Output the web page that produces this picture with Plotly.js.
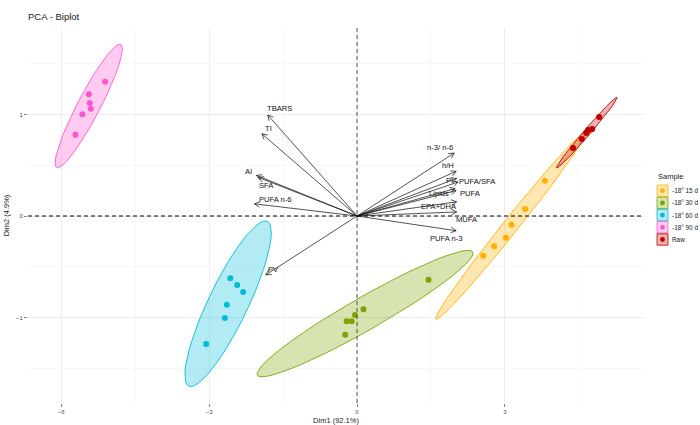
<!DOCTYPE html>
<html><head><meta charset="utf-8">
<script src="https://cdn.plot.ly/plotly-3.0.1.min.js"></script>
<style>html,body{margin:0;padding:0;background:#fff}#chart{width:700px;height:425px}</style>
</head><body><div id="chart"></div>
<script>
// ---- DATA ----
const groups = ["-18° 15 d", "-18° 30 d", "-18° 60 d", "-18° 90 d", "Raw"];
const dim1_15d = [3.81, 3.41, 3.13, 3.02, 2.78, 2.56];
const dim2_15d = [0.348, 0.069, -0.086, -0.214, -0.299, -0.391];
const dim1_30d = [1.45, 0.13, -0.04, -0.11, -0.21, -0.24];
const dim2_30d = [-0.628, -0.919, -0.975, -1.037, -1.037, -1.169];
const dim1_60d = [-2.57, -2.43, -2.31, -2.64, -2.68, -3.06];
const dim2_60d = [-0.614, -0.680, -0.749, -0.874, -1.005, -1.261];
const dim1_90d = [-5.11, -5.44, -5.42, -5.40, -5.57, -5.71];
const dim2_90d = [1.323, 1.200, 1.113, 1.057, 1.002, 0.800];
const dim1_raw = [4.91, 4.77, 4.69, 4.65, 4.56, 4.38];
const dim2_raw = [0.975, 0.857, 0.847, 0.818, 0.759, 0.670];

const variables = ["TBARS", "TI", "AI", "SFA", "PUFA n-6", "PV", "n-3/ n-6", "h/H", "PI",
  "PUFA/SFA", "Lipids", "PUFA", "EPA+DHA", "MUFA", "PUFA n-3"];
const varDim1 = [-1.81, -1.93, -2.04, -2.00, -2.08, -1.85, 1.97, 2.01, 2.02, 2.05, 1.99, 2.01, 2.02, 2.02, 2.01];
const varDim2 = [0.995, 0.81, 0.40, 0.38, 0.12, -0.58, 0.62, 0.44, 0.37, 0.335, 0.27, 0.25, 0.14, 0.04, -0.145];

const xTitle = "Dim1 (92.1%)";
const yTitle = "Dim2 (4.9%)";
const chartTitle = "PCA - Biplot";

// ---- STYLE ----
const FONT = 'Liberation Sans, Arial, sans-serif';
const colors = ["#FFB000", "#7FA300", "#00BCD9", "#FF55CC", "#C00000"];
const fills = ["rgba(255,176,0,0.3)", "rgba(127,163,0,0.3)", "rgba(0,188,217,0.3)", "rgba(255,85,204,0.3)", "rgba(192,0,0,0.3)"];
// label offsets (px) relative to arrow tip: [dx right, dy down]
const labelOffsets = [[12,-7],[7,-5],[-8,-4],[8,8],[21,-4],[8,-5],[-14,-6],[-8,-6],[-7,2],[19,-1],[-16,5],[14,3],[-18,5],[10,8],[-10,8]];

const W = 700, H = 425;
const M = {l: 28, r: 56, t: 28, b: 22};
const PW = W - M.l - M.r, PH = H - M.t - M.b;
const xr = [-6.673, 5.82], yr = [-1.842, 1.852];
const sx = PW / (xr[1] - xr[0]), sy = PH / (yr[1] - yr[0]);

const xs = [dim1_15d, dim1_30d, dim1_60d, dim1_90d, dim1_raw];
const ys = [dim2_15d, dim2_30d, dim2_60d, dim2_90d, dim2_raw];

// stat_ellipse(type="norm", level=0.95)
function ellipse(x, y, level) {
  const n = x.length;
  const mx = x.reduce((a, b) => a + b, 0) / n, my = y.reduce((a, b) => a + b, 0) / n;
  let a = 0, b = 0, c = 0;
  for (let i = 0; i < n; i++) { a += (x[i]-mx)**2; b += (x[i]-mx)*(y[i]-my); c += (y[i]-my)**2; }
  a /= (n-1); b /= (n-1); c /= (n-1);
  const d2 = n - 1;
  const qf = (d2/2) * (Math.pow(1 - level, -2/d2) - 1);
  const r = Math.sqrt(2 * qf);
  const R11 = Math.sqrt(a), R12 = b / R11, R22 = Math.sqrt(c - R12*R12);
  const ex = [], ey = [];
  const seg = 51;
  for (let k = 0; k <= seg; k++) {
    const t = 2*Math.PI*k/seg;
    const u = Math.cos(t), v = Math.sin(t);
    ex.push(mx + r*u*R11);
    ey.push(my + r*(u*R12 + v*R22));
  }
  return [ex, ey];
}

const traces = [];
groups.forEach((g, i) => {
  const [ex, ey] = ellipse(xs[i], ys[i], 0.95);
  traces.push({x: ex, y: ey, type: 'scatter', mode: 'lines', fill: 'toself', fillcolor: fills[i],
    line: {color: colors[i], width: 0.9}, hoverinfo: 'skip', showlegend: false});
});
groups.forEach((g, i) => {
  traces.push({x: xs[i], y: ys[i], type: 'scatter', mode: 'markers', name: g,
    marker: {color: colors[i], size: 6}, showlegend: false});
});

// arrows
const ax = [], ay = [];
const L = 6, phi = 28 * Math.PI / 180;
varDim1.forEach((tx, i) => {
  const ty = varDim2[i];
  ax.push(0, tx, null);
  ay.push(0, ty, null);
  const ang = Math.atan2(ty * sy, tx * sx);
  [ang + phi, ang - phi].forEach(aa => {
    ax.push(tx - L*Math.cos(aa)/sx, tx, null);
    ay.push(ty - L*Math.sin(aa)/sy, ty, null);
  });
});
traces.push({x: ax, y: ay, type: 'scatter', mode: 'lines', line: {color: '#1a1a1a', width: 0.75}, hoverinfo: 'skip', showlegend: false});

const annotations = variables.map((v, i) => ({
  x: varDim1[i], y: varDim2[i], xref: 'x', yref: 'y', text: v, showarrow: false,
  xshift: labelOffsets[i][0], yshift: -labelOffsets[i][1],
  font: {family: FONT, size: 7.6, color: '#111'}
}));

// manual legend (ggplot-style keys)
const px2x = p => (p - M.l) / PW;
const py2y = p => (H - M.b - p) / PH;
const shapes = [
  {type: 'line', xref: 'x', yref: 'paper', x0: 0, x1: 0, y0: 0, y1: 1, line: {color: '#555', width: 1, dash: '4px,3px'}},
  {type: 'line', xref: 'paper', yref: 'y', x0: 0, x1: 1, y0: 0, y1: 0, line: {color: '#000', width: 1, dash: '4px,3px'}}
];
annotations.push({xref: 'paper', yref: 'paper', x: px2x(656), y: py2y(176), xanchor: 'left', yanchor: 'middle',
  text: 'Sample', showarrow: false, font: {family: FONT, size: 7.5, color: '#1a1a1a'}});
groups.forEach((g, i) => {
  const top = 185 + i * 12.2, left = 657, w = 11, h = 11.4;
  shapes.push({type: 'rect', xref: 'paper', yref: 'paper', x0: px2x(left), x1: px2x(left + w), y0: py2y(top), y1: py2y(top + h),
    fillcolor: fills[i], line: {color: colors[i], width: 0.8}});
  const cx = left + w/2, cy = top + h/2, rr = 2.4;
  shapes.push({type: 'circle', xref: 'paper', yref: 'paper', x0: px2x(cx - rr), x1: px2x(cx + rr), y0: py2y(cy + rr), y1: py2y(cy - rr),
    fillcolor: colors[i], line: {color: colors[i], width: 0}});
  annotations.push({xref: 'paper', yref: 'paper', x: px2x(671), y: py2y(cy), xanchor: 'left', yanchor: 'middle',
    borderpad: 0, text: g, showarrow: false, font: {family: FONT, size: 6.4, color: '#1a1a1a'}});
});

const axisCommon = {
  showline: false, zeroline: false, ticks: 'outside', ticklen: 3, tickwidth: 0.6, tickcolor: '#333',
  gridcolor: '#E8E8E8', gridwidth: 0.8,
  tickfont: {family: FONT, size: 6, color: '#4D4D4D'},
  minor: {showgrid: true, gridcolor: '#F2F2F2', gridwidth: 0.5, ticks: ''}
};

const layout = {
  width: W, height: H, margin: M, paper_bgcolor: '#fff', plot_bgcolor: '#fff', showlegend: false,
  title: {text: chartTitle, x: 28/700, xanchor: 'left', xref: 'container', y: 1 - 16.5/425, yanchor: 'middle',
    font: {family: FONT, size: 9.5, color: '#1a1a1a'}},
  xaxis: Object.assign({}, axisCommon, {range: xr, tick0: 0, dtick: 3, minor: Object.assign({}, axisCommon.minor, {dtick: 1.5, tick0: 0}),
    title: {text: xTitle, standoff: 3, font: {family: FONT, size: 7.5, color: '#1a1a1a'}}}),
  yaxis: Object.assign({}, axisCommon, {range: yr, tick0: 0, dtick: 1, minor: Object.assign({}, axisCommon.minor, {dtick: 0.5, tick0: 0}),
    title: {text: yTitle, standoff: 5, font: {family: FONT, size: 7.5, color: '#1a1a1a'}}}),
  shapes: shapes, annotations: annotations
};

Plotly.newPlot('chart', traces, layout, {displayModeBar: false, staticPlot: true});
</script>
</body></html>
